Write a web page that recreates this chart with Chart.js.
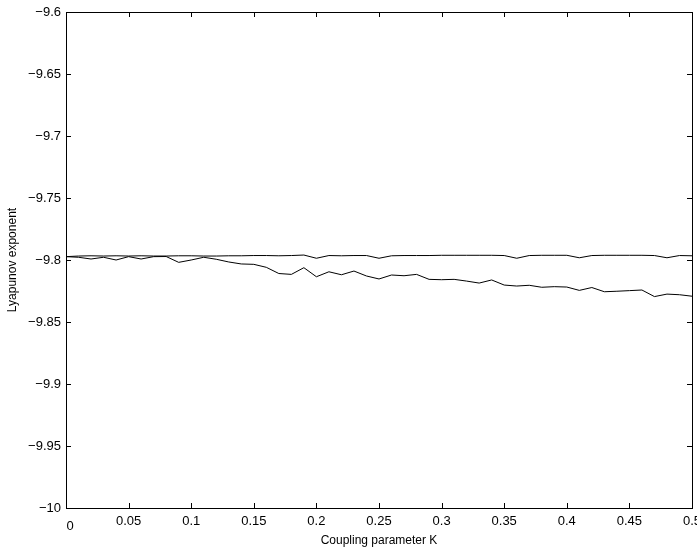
<!DOCTYPE html>
<html>
<head>
<meta charset="utf-8">
<script src="https://cdn.jsdelivr.net/npm/chart.js@4"></script>
<style>
  body { margin: 0; background: #fff; }
  #wrap { width: 697px; height: 548px; }
</style>
</head>
<body>
<div id="wrap"><canvas id="lyapChart" width="697" height="548"></canvas></div>
<script>
// coupling parameter K, 0 .. 0.5 in steps of 0.01
const couplingK = [
    0.00, 0.01, 0.02, 0.03, 0.04, 0.05, 0.06, 0.07, 0.08, 0.09,
    0.10, 0.11, 0.12, 0.13, 0.14, 0.15, 0.16, 0.17, 0.18, 0.19,
    0.20, 0.21, 0.22, 0.23, 0.24, 0.25, 0.26, 0.27, 0.28, 0.29,
    0.30, 0.31, 0.32, 0.33, 0.34, 0.35, 0.36, 0.37, 0.38, 0.39,
    0.40, 0.41, 0.42, 0.43, 0.44, 0.45, 0.46, 0.47, 0.48, 0.49, 0.50
];

// upper (nearly flat) exponent
const lyapUpper = [
    -9.7973, -9.7968, -9.7966, -9.7968, -9.7966, -9.7968, -9.7966, -9.7968, -9.7968, -9.7966,
    -9.7966, -9.7968, -9.7968, -9.7966, -9.7966, -9.7964, -9.7964, -9.7966, -9.7964, -9.7960,
    -9.7986, -9.7964, -9.7966, -9.7964, -9.7964, -9.7986, -9.7966, -9.7964, -9.7964, -9.7964,
    -9.7962, -9.7962, -9.7962, -9.7962, -9.7962, -9.7964, -9.7986, -9.7964, -9.7962, -9.7962,
    -9.7962, -9.7982, -9.7964, -9.7962, -9.7962, -9.7962, -9.7962, -9.7964, -9.7982, -9.7964, -9.7966
];

// lower (slowly decreasing) exponent
const lyapLower = [
    -9.7973, -9.7978, -9.7992, -9.7978, -9.8000, -9.7973, -9.7992, -9.7973, -9.7972, -9.8019,
    -9.8000, -9.7978, -9.7994, -9.8016, -9.8032, -9.8035, -9.8059, -9.8109, -9.8116, -9.8062,
    -9.8135, -9.8095, -9.8119, -9.8089, -9.8129, -9.8153, -9.8121, -9.8127, -9.8116, -9.8156,
    -9.8159, -9.8156, -9.8170, -9.8186, -9.8161, -9.8202, -9.8210, -9.8204, -9.8220, -9.8215,
    -9.8218, -9.8245, -9.8222, -9.8256, -9.8252, -9.8247, -9.8242, -9.8295, -9.8275, -9.8280, -9.8292
];

const yMin = -10, yMax = -9.6, yStep = 0.05;
const xMin = 0, xMax = 0.5, xStep = 0.05;

const tickFont = { family: 'Liberation Sans, Arial, sans-serif', size: 13 };
const titleFont = { family: 'Liberation Sans, Arial, sans-serif', size: 12 };

function toPoints(ys) {
    return couplingK.map((k, i) => ({ x: k, y: ys[i] }));
}

function fmtTick(v) {
    return String(Number(v.toFixed(2))).replace('-', '\u2212');
}

// matlab style box with inward ticks on all four sides
const boxTicks = {
    id: 'boxTicks',
    afterDraw(chart) {
        const { ctx, chartArea: a, scales } = chart;
        const len = 5;
        ctx.save();
        ctx.strokeStyle = '#000';
        ctx.lineWidth = 1;
        ctx.beginPath();
        scales.x.ticks.forEach(t => {
            const px = Math.round(scales.x.getPixelForValue(t.value)) + 0.5;
            ctx.moveTo(px, a.bottom); ctx.lineTo(px, a.bottom - len);
            ctx.moveTo(px, a.top); ctx.lineTo(px, a.top + len);
        });
        scales.y.ticks.forEach(t => {
            const py = Math.round(scales.y.getPixelForValue(t.value)) + 0.5;
            ctx.moveTo(a.left, py); ctx.lineTo(a.left + len, py);
            ctx.moveTo(a.right, py); ctx.lineTo(a.right - len, py);
        });
        ctx.stroke();
        ctx.strokeRect(Math.round(a.left) + 0.5, Math.round(a.top) + 0.5,
            Math.round(a.right - a.left), Math.round(a.bottom - a.top));

        // the origin label sits a little lower and to the right in the original
        ctx.fillStyle = '#000';
        ctx.font = tickFont.size + 'px ' + tickFont.family;
        ctx.textAlign = 'center';
        ctx.textBaseline = 'middle';
        ctx.fillText(fmtTick(xMin), scales.x.getPixelForValue(xMin) + 4, a.bottom + 18);
        ctx.restore();
    }
};

const ctx = document.getElementById('lyapChart').getContext('2d');
new Chart(ctx, {
    type: 'line',
    data: {
        datasets: [
            {
                label: 'upper',
                data: toPoints(lyapUpper),
                borderColor: '#000',
                borderWidth: 1,
                pointRadius: 0,
                tension: 0
            },
            {
                label: 'lower',
                data: toPoints(lyapLower),
                borderColor: '#000',
                borderWidth: 1,
                pointRadius: 0,
                tension: 0
            }
        ]
    },
    options: {
        responsive: false,
        animation: false,
        layout: { padding: { left: 0, right: 5, top: 12, bottom: 0 } },
        plugins: {
            legend: { display: false },
            tooltip: { enabled: false }
        },
        scales: {
            x: {
                type: 'linear',
                min: xMin,
                max: xMax,
                grid: { display: false, drawTicks: false },
                border: { display: false },
                ticks: {
                    stepSize: xStep,
                    padding: 6,
                    color: '#000',
                    maxRotation: 0,
                    autoSkip: false,
                    font: tickFont,
                    callback: v => (v === xMin ? '' : fmtTick(v))   // 0 drawn by boxTicks
                },
                title: {
                    display: true,
                    text: 'Coupling parameter K',
                    color: '#000',
                    padding: { top: 4, bottom: 0 },
                    font: titleFont
                },
                afterFit(scale) {
                    scale.height = 40;
                    scale.paddingLeft = 0;
                    scale.paddingRight = 0;
                }
            },
            y: {
                type: 'linear',
                min: yMin,
                max: yMax,
                grid: { display: false, drawTicks: false },
                border: { display: false },
                ticks: {
                    stepSize: yStep,
                    padding: 5,
                    color: '#000',
                    autoSkip: false,
                    font: tickFont,
                    callback: v => fmtTick(v)
                },
                title: {
                    display: true,
                    text: 'Lyapunov exponent',
                    color: '#000',
                    padding: { top: 5, bottom: 0 },
                    font: titleFont
                },
                afterFit(scale) {
                    scale.width = 66;
                    scale.paddingTop = 0;
                    scale.paddingBottom = 0;
                }
            }
        }
    },
    plugins: [boxTicks]
});
</script>
</body>
</html>
